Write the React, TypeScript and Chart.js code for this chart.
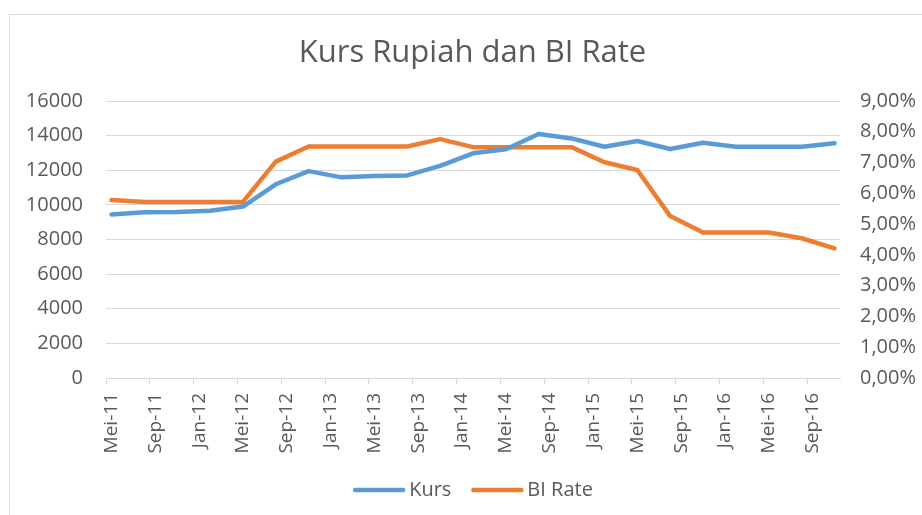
import React, { useEffect, useRef } from "react";
import { Chart, registerables } from "chart.js";

Chart.register(...registerables);

const MONTHS: Record<string, number> = {
  Jan: 1, Feb: 2, Mar: 3, Apr: 4, Mei: 5, Jun: 6,
  Jul: 7, Agu: 8, Sep: 9, Okt: 10, Nov: 11, Des: 12,
};

const axisStart = "Mei-11";
const axisEnd = "Des-16";

const periods = [
  "Mei-11", "Agu-11", "Nov-11", "Feb-12", "Mei-12", "Agu-12", "Nov-12", "Feb-13",
  "Mei-13", "Agu-13", "Nov-13", "Feb-14", "Mei-14", "Agu-14", "Nov-14", "Feb-15",
  "Mei-15", "Agu-15", "Nov-15", "Feb-16", "Mei-16", "Agu-16", "Nov-16",
];

const kursValues = [
  9450, 9570, 9590, 9660, 9900, 11190, 11950, 11590,
  11670, 11700, 12250, 12980, 13210, 14090, 13840, 13360,
  13690, 13230, 13590, 13360, 13360, 13360, 13560,
];

const biRateValues = [
  5.78, 5.72, 5.72, 5.72, 5.72, 7.03, 7.52, 7.52,
  7.52, 7.52, 7.76, 7.5, 7.5, 7.5, 7.5, 7.01,
  6.76, 5.26, 4.73, 4.73, 4.73, 4.54, 4.21,
];

const tickLabels = [
  "Mei-11", "Sep-11", "Jan-12", "Mei-12", "Sep-12", "Jan-13", "Mei-13", "Sep-13",
  "Jan-14", "Mei-14", "Sep-14", "Jan-15", "Mei-15", "Sep-15", "Jan-16", "Mei-16", "Sep-16",
];

const kursTicks = [0, 2000, 4000, 6000, 8000, 10000, 12000, 14000, 16000];
const rateTicks = [0, 1, 2, 3, 4, 5, 6, 7, 8, 9];

function absMonth(label: string): number {
  const [m, y] = label.split("-");
  return (2000 + Number(y)) * 12 + MONTHS[m];
}
function monthOffset(label: string): number {
  return absMonth(label) - absMonth(axisStart);
}

const FONT = "'Open Sans', sans-serif";
const GREY = "#595959";
const BLUE = "#5B9BD5";
const ORANGE = "#ED7D31";

const legendPlugin = {
  id: "excelLegend",
  afterDraw(chart: any) {
    const ctx = chart.ctx as CanvasRenderingContext2D;
    const LINE = 52;
    const GAP = 4;
    const ITEM_GAP = 20;
    const items = chart.data.datasets.map((ds: any) => ({ label: ds.label, color: ds.borderColor }));
    ctx.save();
    ctx.font = `20px ${FONT}`;
    const widths = items.map((it: any) => LINE + GAP + ctx.measureText(it.label).width);
    const total = widths.reduce((a: number, b: number) => a + b, 0) + ITEM_GAP * (items.length - 1);
    let x = (chart.chartArea.left + chart.chartArea.right) / 2 - total / 2;
    const y = chart.height - 25;
    items.forEach((it: any, i: number) => {
      ctx.strokeStyle = it.color;
      ctx.lineWidth = 4.5;
      ctx.lineCap = "round";
      ctx.beginPath();
      ctx.moveTo(x + 2, y);
      ctx.lineTo(x + LINE - 2, y);
      ctx.stroke();
      ctx.fillStyle = GREY;
      ctx.textBaseline = "middle";
      ctx.textAlign = "left";
      ctx.fillText(it.label, x + LINE + GAP, y);
      x += widths[i] + ITEM_GAP;
    });
    ctx.restore();
  },
};

export default function App() {
  const ref = useRef<HTMLCanvasElement | null>(null);

  useEffect(() => {
    if (!ref.current) return;
    const tickMap = new Map<number, string>();
    tickLabels.forEach((l) => tickMap.set(monthOffset(l), l));

    const chart = new Chart(ref.current, {
      type: "line",
      data: {
        datasets: [
          {
            label: "Kurs",
            data: periods.map((p, i) => ({ x: monthOffset(p) + 0.5, y: kursValues[i] })),
            borderColor: BLUE,
            backgroundColor: BLUE,
            borderWidth: 4.5,
            pointRadius: 0,
            tension: 0,
            borderJoinStyle: "round",
            borderCapStyle: "round",
            yAxisID: "y",
          },
          {
            label: "BI Rate",
            data: periods.map((p, i) => ({ x: monthOffset(p) + 0.5, y: biRateValues[i] })),
            borderColor: ORANGE,
            backgroundColor: ORANGE,
            borderWidth: 4.5,
            pointRadius: 0,
            tension: 0,
            borderJoinStyle: "round",
            borderCapStyle: "round",
            yAxisID: "y1",
          },
        ],
      },
      plugins: [legendPlugin],
      options: {
        responsive: false,
        animation: false,
        layout: { padding: { left: 23, right: 0, top: 0, bottom: 53 } },
        plugins: {
          tooltip: { enabled: false },
          legend: { display: false },
          title: {
            display: true,
            text: "Kurs Rupiah dan BI Rate",
            color: GREY,
            font: { family: FONT, size: 31, weight: "normal" },
            padding: { top: 34.4, bottom: 29.4 },
          },
        },
        scales: {
          x: {
            type: "linear",
            min: 0,
            max: monthOffset(axisEnd),
            afterBuildTicks: (scale: any) => {
              scale.ticks = tickLabels.map((l) => ({ value: monthOffset(l) }));
            },
            afterFit: (scale: any) => {
              scale.height = 84;
            },
            grid: {
              display: true,
              drawOnChartArea: false,
              drawTicks: true,
              tickLength: 6,
              color: "#d9d9d9",
            },
            border: { display: true, color: "#d9d9d9", width: 1 },
            ticks: {
              autoSkip: false,
              minRotation: 90,
              maxRotation: 90,
              padding: 9,
              labelOffset: 5.5,
              color: GREY,
              font: { family: FONT, size: 19 },
              callback: (v: any) => tickMap.get(Number(v)) ?? "",
            },
          },
          y: {
            type: "linear",
            position: "left",
            min: kursTicks[0],
            max: kursTicks[kursTicks.length - 1],
            afterBuildTicks: (scale: any) => {
              scale.ticks = kursTicks.map((v) => ({ value: v }));
            },
            afterFit: (scale: any) => {
              scale.width = 83;
            },
            grid: { color: "#d9d9d9", drawTicks: false, lineWidth: 1 },
            border: { display: false },
            ticks: {
              padding: 23,
              color: GREY,
              font: { family: FONT, size: 20 },
              callback: (v: any) => String(v),
            },
          },
          y1: {
            type: "linear",
            position: "right",
            min: rateTicks[0],
            max: rateTicks[rateTicks.length - 1],
            afterBuildTicks: (scale: any) => {
              scale.ticks = rateTicks.map((v) => ({ value: v }));
            },
            afterFit: (scale: any) => {
              scale.width = 82;
            },
            grid: { drawOnChartArea: false, drawTicks: false },
            border: { display: false },
            ticks: {
              padding: 20,
              color: GREY,
              font: { family: FONT, size: 20 },
              callback: (v: any) => Number(v).toFixed(2).replace(".", ",") + "%",
            },
          },
        },
      },
    } as any);

    return () => chart.destroy();
  }, []);

  return (
    <div
      style={{
        position: "fixed",
        left: 0,
        top: 0,
        width: 922,
        height: 515,
        overflow: "hidden",
        background: "#ffffff",
      }}
    >
      <div
        style={{
          position: "absolute",
          left: 9,
          top: 14,
          width: 2000,
          height: 2000,
          borderLeft: "1px solid #d9d9d9",
          borderTop: "1px solid #d9d9d9",
        }}
      />
      <canvas
        ref={ref}
        width={922}
        height={515}
        style={{ position: "absolute", left: 0, top: 0, width: 922, height: 515 }}
      />
    </div>
  );
}
